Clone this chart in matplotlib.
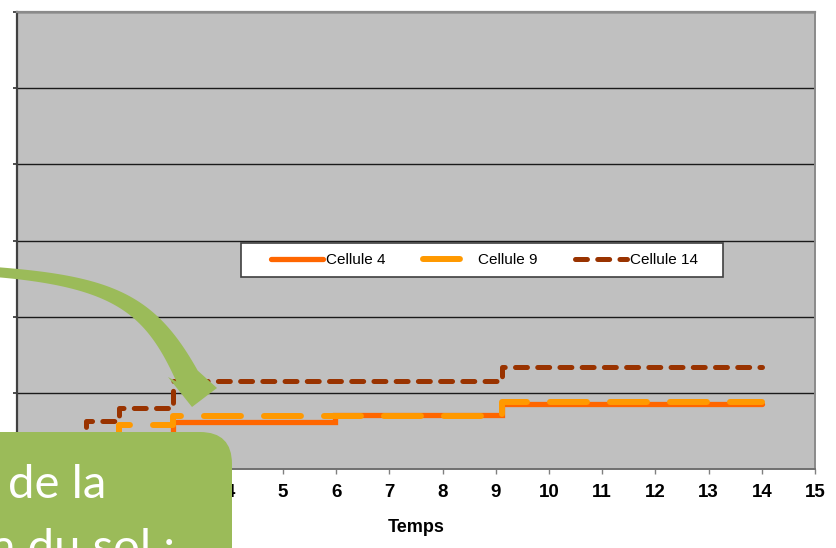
import numpy as np
import matplotlib
matplotlib.use("Agg")
import matplotlib.pyplot as plt
from matplotlib.patches import Polygon, FancyBboxPatch, Rectangle
from matplotlib.transforms import Affine2D

plt.rcParams['font.family'] = ['Liberation Sans', 'DejaVu Sans']
plt.rcParams['lines.scale_dashes'] = False

# Step series: time of each change and the level held from that time on
temps_c4 = [0, 2.94, 5.98, 9.11, 14]
vals_c4 = [0, 6.2, 7.1, 8.5, 8.5]
temps_c9 = [0, 1.91, 2.94, 9.11, 14]
vals_c9 = [0, 5.8, 7.0, 8.75, 8.75]
temps_c14 = [0, 1.30, 1.91, 2.94, 9.11, 14]
vals_c14 = [0, 6.3, 8.0, 11.5, 13.35, 13.35]
series_labels = ['Cellule 4', 'Cellule 9', 'Cellule 14']
x_ticks = list(range(0, 16))
y_ticks = [0, 10, 20, 30, 40, 50, 60]

W, H = 836, 548
fig = plt.figure(figsize=(W / 100, H / 100), dpi=100)
fig.patch.set_facecolor('white')

# pixel coordinates (origin top-left) -> display
pix = Affine2D().scale(1 / 100, -1 / 100).translate(0, H / 100) + fig.dpi_scale_trans

L, R, T, B = 17, 815, 12, 469
ax = fig.add_axes([L / W, (H - B) / H, (R - L) / W, (B - T) / H])
ax.set_facecolor('#C0C0C0')

l4, = ax.step(temps_c4, vals_c4, where='post', color='#FF6600', lw=3.8,
              solid_capstyle='round', solid_joinstyle='miter', zorder=3,
              label=series_labels[0])
l9, = ax.step(temps_c9, vals_c9, where='post', color='#FF9900', lw=4.3,
              dashes=(26.6, 16.6), dash_capstyle='round', zorder=4,
              label=series_labels[1])
l14, = ax.step(temps_c14, vals_c14, where='post', color='#993300', lw=3.6,
               dashes=(8.6, 7.4), dash_capstyle='round', zorder=3,
               label=series_labels[2])

ax.set_xlim(0, 15)
ax.set_ylim(0, 60)
ax.set_xticks(x_ticks)
ax.set_yticks(y_ticks)
ax.set_yticklabels([])
ax.grid(axis='y', color='#1a1a1a', lw=1.0)
ax.set_axisbelow(True)
ax.tick_params(axis='x', length=3.6, width=1, color='#808080', pad=7,
               labelsize=13.5)
for lab in ax.get_xticklabels():
    lab.set_fontweight('bold')
ax.tick_params(axis='y', length=3, width=1.2, color='#303030')
ax.set_xlabel('Temps', fontsize=13, fontweight='bold', labelpad=13)

ax.spines['left'].set_color('#404040')
ax.spines['left'].set_linewidth(1.6)
ax.spines['bottom'].set_color('#707070')
ax.spines['bottom'].set_linewidth(1.4)
ax.spines['top'].set_color('#8a8a8a')
ax.spines['top'].set_linewidth(1.6)
ax.spines['right'].set_color('#8a8a8a')
ax.spines['right'].set_linewidth(1.4)

# legend frame and entries
ax_w, ax_h = R - L, B - T
frame = Rectangle(((241 - L) / ax_w, (B - 277) / ax_h), 482 / ax_w, 34 / ax_h,
                  transform=ax.transAxes, facecolor='white',
                  edgecolor='#404040', lw=1.2, zorder=5)
ax.add_patch(frame)
leg = ax.legend(handles=[l4, l9, l14], loc='center left',
                bbox_to_anchor=((271 - L) / ax_w, (B - 260) / ax_h),
                ncol=3, frameon=False, fontsize=11, handlelength=3.4,
                handletextpad=0.2, columnspacing=2.45, borderpad=0,
                borderaxespad=0)
leg.set_zorder(6)

# curved callout arrow
green = '#9BBB59'
P0 = np.array([-5.0, 272.0])
P3 = np.array([187.0, 376.0])
d0 = np.array([1.0, 0.08]); d0 /= np.linalg.norm(d0)
d1 = np.array([0.45, 0.89]); d1 /= np.linalg.norm(d1)
P1 = P0 + 120 * d0
P2 = P3 - 80 * d1
t = np.linspace(0, 1, 80)[:, None]
pts = (1 - t) ** 3 * P0 + 3 * (1 - t) ** 2 * t * P1 + 3 * (1 - t) * t ** 2 * P2 + t ** 3 * P3
tan = (-3 * (1 - t) ** 2 * P0 + 3 * ((1 - t) ** 2 - 2 * (1 - t) * t) * P1
       + 3 * (2 * (1 - t) * t - t ** 2) * P2 + 3 * t ** 2 * P3)
tan /= np.linalg.norm(tan, axis=1)[:, None]
nrm = np.column_stack([-tan[:, 1], tan[:, 0]])
wid = (10 + 14 * t[:, 0] ** 1.5)[:, None]
side_a = pts + nrm * wid / 2
side_b = pts - nrm * wid / 2
head = np.array([[168, 377], [192, 407], [217, 388]], dtype=float)
outline = np.vstack([side_a, head, side_b[::-1]])
fig.patches.append(Polygon(outline, closed=True, transform=pix,
                           facecolor=green, edgecolor='none', zorder=10))

# rounded caption box
box = FancyBboxPatch((-60, 432), 292, 200,
                     boxstyle='round,pad=0,rounding_size=32',
                     transform=pix, facecolor=green, edgecolor='none',
                     zorder=11)
fig.patches.append(box)
fig.text(8, 498, 'de la', transform=pix, color='white', fontsize=34,
         family=['Lato', 'DejaVu Sans'], va='baseline', ha='left', zorder=12)
fig.text(-8, 562, 'a du sol :', transform=pix, color='white', fontsize=34,
         family=['Lato', 'DejaVu Sans'], va='baseline', ha='left', zorder=12)

fig.savefig('out.png', dpi=100)
